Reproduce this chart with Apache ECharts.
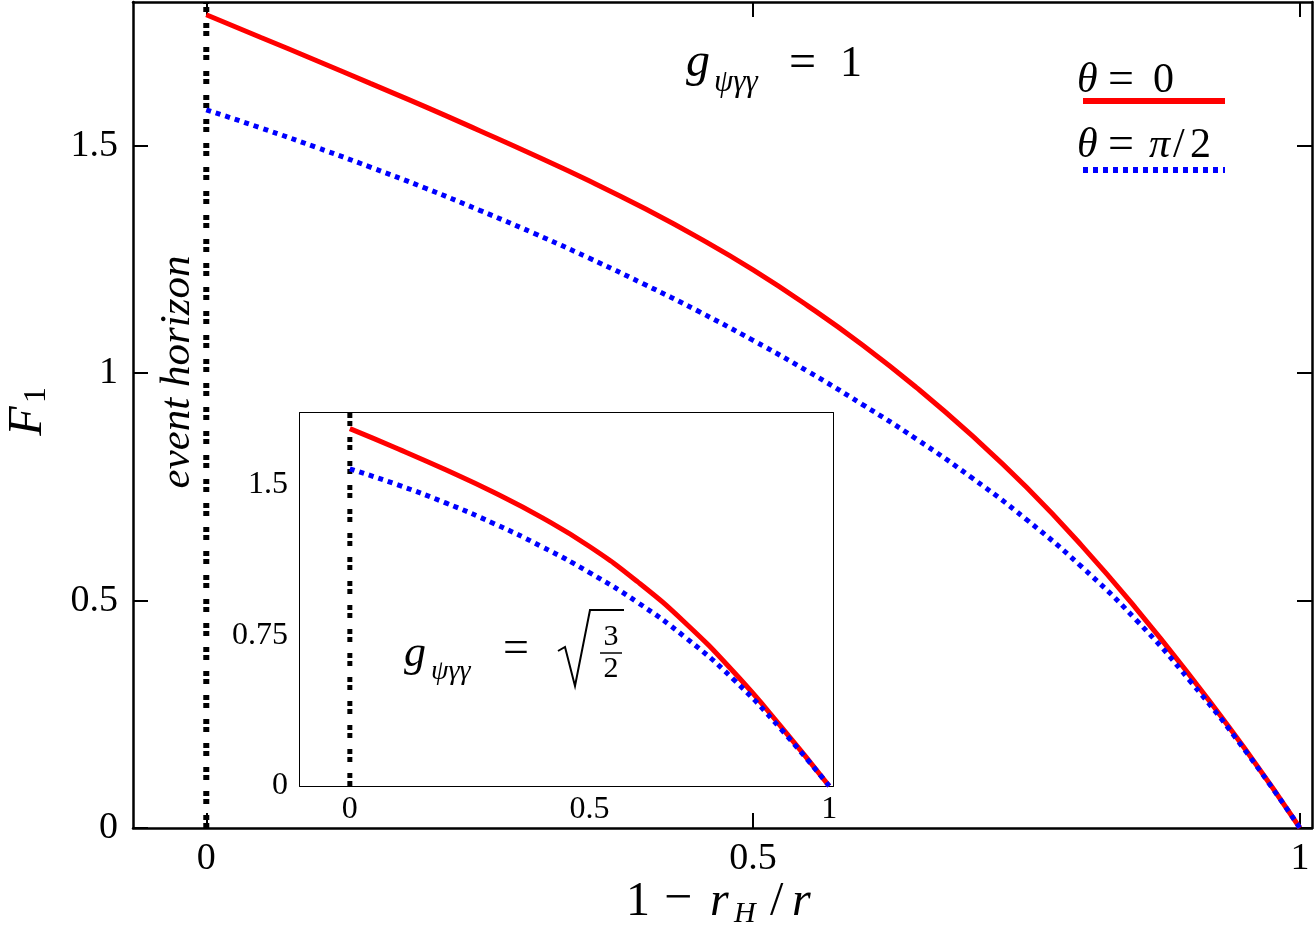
<!DOCTYPE html>
<html>
<head>
<meta charset="utf-8">
<title>F1</title>
<script src="https://cdn.jsdelivr.net/npm/echarts@6/dist/echarts.min.js"></script>
<style>
    html, body, #main {
        width: 100%;
        height: 100%;
        margin: 0;
        background: #fff;
    }
</style>
</head>
<body>
<div id="main"></div>
<script>
    // values, x = 1 - rH/r
    var mainXs = [0, 0.05, 0.1, 0.15, 0.2, 0.25, 0.3, 0.35, 0.4, 0.45, 0.5,
        0.55, 0.6, 0.65, 0.7, 0.75, 0.8, 0.85, 0.9, 0.95, 1];
    // g = 1 (main panel)
    var mainRed = [1.788, 1.738, 1.688, 1.637, 1.586, 1.533, 1.479, 1.423, 1.363, 1.298, 1.227,
        1.148, 1.062, 0.967, 0.863, 0.749, 0.622, 0.483, 0.333, 0.173, 0];
    var mainBlue = [1.579, 1.539, 1.497, 1.453, 1.407, 1.358, 1.307, 1.253, 1.196, 1.136, 1.072,
        1.004, 0.931, 0.854, 0.770, 0.678, 0.575, 0.458, 0.322, 0.170, 0];
    // g = sqrt(3/2) (inset)
    var insetXs = [0, 0.1, 0.2, 0.3, 0.4, 0.5, 0.6, 0.7, 0.8, 0.9, 1];
    var insetRed = [1.78, 1.68, 1.575, 1.463, 1.338, 1.193, 1.018, 0.812, 0.570, 0.295, 0];
    var insetBlue = [1.58, 1.50, 1.41, 1.308, 1.193, 1.063, 0.915, 0.740, 0.532, 0.282, 0];
    // event horizon at x = 0
    var horizonX = [0, 0];
    var mainHorizonY = [0, 1.816];
    var insetHorizonY = [0, 1.858];

    var mainTicksX = [0, 0.5, 1];
    var mainTicksY = [0, 0.5, 1, 1.5];
    var insetTicksX = [0, 0.5, 1];
    var insetTicksY = [0, 0.75, 1.5];

    var SERIF = "'Liberation Serif', 'DejaVu Serif', serif";

    function pairs(x, y) {
        return x.map(function (v, i) { return [v, y[i]]; });
    }

    function axis(grid, pos, min, max, ticks, labels, fs, tlen, lw, margin) {
        return {
            type: 'value', gridIndex: grid, position: pos, min: min, max: max,
            axisLine: {show: true, onZero: false, lineStyle: {color: '#000', width: lw}},
            axisTick: {show: true, inside: true, length: tlen, customValues: ticks,
                lineStyle: {color: '#000', width: 2}},
            axisLabel: {show: labels, customValues: ticks, color: '#000',
                fontFamily: SERIF, fontSize: fs, margin: margin},
            splitLine: {show: false}
        };
    }

    function txt(x, y, s, size, italic, align) {
        return {
            type: 'text', x: x, y: y, z: 10,
            style: {text: s, fill: '#000',
                font: (italic ? 'italic ' : '') + size + 'px ' + SERIF,
                align: align || 'left', verticalAlign: 'middle'}
        };
    }

    var chart = echarts.init(document.getElementById('main'));

    var option = {
        backgroundColor: '#fff',
        animation: false,
        grid: [
            {left: 133, top: 2, width: 1179, height: 826},
            {left: 300, top: 413, width: 533, height: 373, show: true,
                backgroundColor: '#fff', borderWidth: 0, z: 3}
        ],
        xAxis: [
            axis(0, 'bottom', -0.067, 1.011, mainTicksX, true, 38, 15, 2.5, 12),
            axis(0, 'top', -0.067, 1.011, mainTicksX, false, 38, 15, 2.5, 12),
            axis(1, 'bottom', -0.104, 1.008, insetTicksX, true, 32, 13, 2, 8),
            axis(1, 'top', -0.104, 1.008, insetTicksX, false, 32, 13, 2, 8)
        ],
        yAxis: [
            axis(0, 'left', 0, 1.816, mainTicksY, true, 38, 15, 2.5, 15),
            axis(0, 'right', 0, 1.816, mainTicksY, false, 38, 15, 2.5, 15),
            axis(1, 'left', 0, 1.858, insetTicksY, true, 32, 13, 2, 12),
            axis(1, 'right', 0, 1.858, insetTicksY, false, 32, 13, 2, 12)
        ],
        series: [
            {type: 'line', xAxisIndex: 0, yAxisIndex: 0, data: pairs(horizonX, mainHorizonY),
                showSymbol: false, lineStyle: {color: '#000', width: 6, type: [5, 3, 5, 11], cap: 'butt'}},
            {type: 'line', xAxisIndex: 0, yAxisIndex: 0, data: pairs(mainXs, mainRed), smooth: true,
                showSymbol: false, lineStyle: {color: '#ff0000', width: 5}},
            {type: 'line', xAxisIndex: 0, yAxisIndex: 0, data: pairs(mainXs, mainBlue), smooth: true,
                showSymbol: false, lineStyle: {color: '#0000ff', width: 5, type: [5, 5], cap: 'butt'}},
            {type: 'line', xAxisIndex: 2, yAxisIndex: 2, data: pairs(horizonX, insetHorizonY), z: 5,
                showSymbol: false, lineStyle: {color: '#000', width: 5, type: [5, 3, 5, 11], cap: 'butt'}},
            {type: 'line', xAxisIndex: 2, yAxisIndex: 2, data: pairs(insetXs, insetRed), smooth: true, z: 5,
                showSymbol: false, lineStyle: {color: '#ff0000', width: 5}},
            {type: 'line', xAxisIndex: 2, yAxisIndex: 2, data: pairs(insetXs, insetBlue), smooth: true, z: 5,
                showSymbol: false, lineStyle: {color: '#0000ff', width: 5, type: [5, 5], cap: 'butt'}}
        ],
        graphic: [
            // legend
            txt(1077, 81, 'θ', 42, true),
            txt(1108, 81, '=', 46, false),
            txt(1153, 81, '0', 42, false),
            {type: 'line', z: 10, shape: {x1: 1083, y1: 101, x2: 1225, y2: 101},
                style: {stroke: '#ff0000', lineWidth: 6}},
            txt(1077, 146, 'θ', 42, true),
            txt(1108, 146, '=', 46, false),
            txt(1149, 146, 'π', 42, true),
            txt(1173, 146, '/', 42, false),
            txt(1190, 146, '2', 42, false),
            {type: 'line', z: 10, shape: {x1: 1083, y1: 170, x2: 1225, y2: 170},
                style: {stroke: '#0000ff', lineWidth: 6, lineDash: [5, 5]}},
            // g = 1
            txt(686, 63, 'g', 48, true),
            txt(714, 83, 'ψγγ', 31, true),
            txt(789, 64, '=', 48, false),
            txt(840, 64, '1', 44, false),
            // g = sqrt(3/2)
            txt(404, 654, 'g', 44, true),
            txt(431, 672, 'ψγγ', 28, true),
            txt(503, 650, '=', 46, false),
            {type: 'polyline', z: 10, shape: {points: [[558, 651], [565, 647], [575, 686], [590, 610], [624, 610]]},
                style: {stroke: '#000', lineWidth: 2, fill: null}},
            txt(611, 637, '3', 30, false, 'center'),
            {type: 'line', z: 10, shape: {x1: 600, y1: 653, x2: 622, y2: 653},
                style: {stroke: '#000', lineWidth: 1.5}},
            txt(611, 669, '2', 30, false, 'center'),
            // event horizon
            {type: 'text', x: 178, y: 372, rotation: Math.PI / 2, z: 10,
                style: {text: 'event horizon', fill: '#000', font: 'italic 43px ' + SERIF,
                    align: 'center', verticalAlign: 'middle'}},
            // y axis name F1
            {type: 'group', x: 28, y: 415, rotation: Math.PI / 2, z: 10, children: [
                txt(-6, 0, 'F', 48, true, 'center'),
                txt(20, 9, '1', 32, false, 'center')
            ]},
            // x axis name 1 - rH/r
            txt(626, 902, '1', 48, false),
            txt(664, 900, '−', 50, false),
            txt(710, 902, 'r', 48, true),
            txt(734, 914, 'H', 30, true),
            txt(770, 902, '/', 48, false),
            txt(792, 902, 'r', 48, true)
        ],
        tooltip: {show: false}
    };

    chart.setOption(option);
    window.onresize = chart.resize;
</script>
</body>
</html>
